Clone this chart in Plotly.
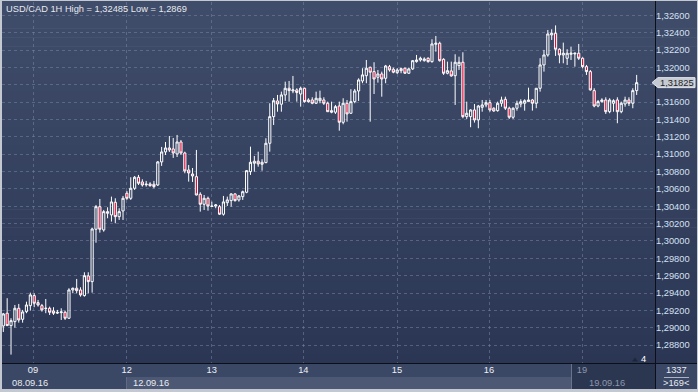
import plotly.graph_objects as go

# ---------------- data ----------------
TITLE_TEXT = "USD/CAD 1H High = 1,32485 Low = 1,2869"

open_ = [1.29020, 1.29167, 1.29024, 1.29070, 1.29224, 1.29097, 1.29185, 1.29254, 1.29370, 1.29289,
         1.29254, 1.29220, 1.29224, 1.29193, 1.29178, 1.29174, 1.29178, 1.29109, 1.29435, 1.29455,
         1.29435, 1.29370, 1.29597, 1.29531, 1.30135, 1.30395, 1.30127, 1.30338, 1.30300, 1.30446,
         1.30280, 1.30346, 1.30550, 1.30492, 1.30607, 1.30734, 1.30680, 1.30657, 1.30657, 1.30654,
         1.30645, 1.30911, 1.31026, 1.31072, 1.31061, 1.31003, 1.31141, 1.31014, 1.30818, 1.30772,
         1.30741, 1.30538, 1.30423, 1.30492, 1.30403, 1.30403, 1.30395, 1.30308, 1.30441, 1.30465,
         1.30542, 1.30473, 1.30511, 1.30561, 1.30799, 1.30896, 1.30919, 1.30884, 1.30903, 1.31126,
         1.31433, 1.31614, 1.31576, 1.31683, 1.31760, 1.31729, 1.31741, 1.31694, 1.31760, 1.31625,
         1.31625, 1.31587, 1.31617, 1.31625, 1.31587, 1.31502, 1.31484, 1.31556, 1.31368, 1.31587,
         1.31472, 1.31606, 1.31729, 1.31844, 1.31905, 1.32002, 1.31952, 1.31887, 1.31925, 1.31875,
         1.32009, 1.31979, 1.31940, 1.31986, 1.31991, 1.31933, 1.31983, 1.32067, 1.32086, 1.32078,
         1.32106, 1.32067, 1.32267, 1.32279, 1.32094, 1.31933, 1.31960, 1.31905, 1.32021, 1.32060,
         1.31433, 1.31433, 1.31510, 1.31395, 1.31541, 1.31568, 1.31594, 1.31530, 1.31502, 1.31587,
         1.31633, 1.31530, 1.31426, 1.31530, 1.31579, 1.31587, 1.31606, 1.31625, 1.31587, 1.31760,
         1.32029, 1.32144, 1.32375, 1.32394, 1.32210, 1.32144, 1.32106, 1.32152, 1.32156, 1.32164,
         1.32106, 1.32009, 1.31952, 1.31733, 1.31556, 1.31606, 1.31625, 1.31490, 1.31587, 1.31625,
         1.31490, 1.31579, 1.31625, 1.31587, 1.31733]

high = [1.29170, 1.29340, 1.29109, 1.29262, 1.29274, 1.29205, 1.29300, 1.29404, 1.29397, 1.29320,
        1.29274, 1.29331, 1.29243, 1.29236, 1.29205, 1.29224, 1.29197, 1.29455, 1.29462, 1.29562,
        1.29466, 1.29639, 1.29639, 1.30153, 1.30415, 1.30484, 1.30357, 1.30388, 1.30511, 1.30492,
        1.30377, 1.30519, 1.30576, 1.30734, 1.30749, 1.30761, 1.30711, 1.30692, 1.30677, 1.30692,
        1.30922, 1.31084, 1.31141, 1.31210, 1.31187, 1.31222, 1.31164, 1.31029, 1.30876, 1.30841,
        1.31049, 1.30561, 1.30530, 1.30511, 1.30453, 1.30426, 1.30415, 1.30519, 1.30511, 1.30550,
        1.30550, 1.30530, 1.30580, 1.30818, 1.31087, 1.30980, 1.31029, 1.30942, 1.31184, 1.31587,
        1.31648, 1.31683, 1.31721, 1.31836, 1.31844, 1.31902, 1.31760, 1.31779, 1.31767, 1.31645,
        1.31656, 1.31721, 1.31733, 1.31656, 1.31606, 1.31606, 1.31568, 1.31606, 1.31645, 1.31625,
        1.31749, 1.31752, 1.31875, 1.31991, 1.32086, 1.32009, 1.32060, 1.31971, 1.31952, 1.32029,
        1.32029, 1.31998, 1.31991, 1.31998, 1.31998, 1.31998, 1.32086, 1.32144, 1.32124, 1.32117,
        1.32117, 1.32325, 1.32363, 1.32297, 1.32106, 1.32067, 1.32067, 1.32152, 1.32124, 1.32175,
        1.31606, 1.31518, 1.31579, 1.31568, 1.31625, 1.31625, 1.31625, 1.31541, 1.31606, 1.31663,
        1.31663, 1.31548, 1.31541, 1.31617, 1.31633, 1.31633, 1.31767, 1.31637, 1.31760, 1.32106,
        1.32202, 1.32432, 1.32440, 1.32485, 1.32221, 1.32286, 1.32210, 1.32240, 1.32171, 1.32271,
        1.32117, 1.32029, 1.31971, 1.31760, 1.31625, 1.31645, 1.31656, 1.31645, 1.31633, 1.31656,
        1.31606, 1.31663, 1.31656, 1.31760, 1.31914]

low = [1.28951, 1.29020, 1.28690, 1.29001, 1.29058, 1.29058, 1.29167, 1.29197, 1.29236, 1.29243,
       1.29185, 1.29167, 1.29147, 1.29147, 1.29159, 1.29089, 1.29089, 1.29101, 1.29397, 1.29397,
       1.29358, 1.29358, 1.29397, 1.29404, 1.29980, 1.30096, 1.30107, 1.30262, 1.30223, 1.30204,
       1.30242, 1.30242, 1.30473, 1.30473, 1.30588, 1.30645, 1.30626, 1.30626, 1.30626, 1.30607,
       1.30634, 1.30865, 1.30991, 1.31026, 1.30957, 1.30968, 1.30991, 1.30780, 1.30684, 1.30680,
       1.30525, 1.30338, 1.30357, 1.30349, 1.30395, 1.30377, 1.30300, 1.30292, 1.30403, 1.30395,
       1.30453, 1.30453, 1.30473, 1.30550, 1.30761, 1.30799, 1.30856, 1.30810, 1.30896, 1.31029,
       1.31337, 1.31490, 1.31490, 1.31614, 1.31606, 1.31703, 1.31606, 1.31548, 1.31594, 1.31594,
       1.31576, 1.31579, 1.31587, 1.31568, 1.31487, 1.31472, 1.31464, 1.31271, 1.31345, 1.31375,
       1.31464, 1.31587, 1.31614, 1.31818, 1.31818, 1.31375, 1.31694, 1.31825, 1.31663, 1.31818,
       1.31952, 1.31933, 1.31925, 1.31933, 1.31925, 1.31925, 1.31971, 1.32055, 1.32067, 1.32067,
       1.32055, 1.32055, 1.32182, 1.32067, 1.31914, 1.31921, 1.31894, 1.31568, 1.31971, 1.31414,
       1.31406, 1.31311, 1.31364, 1.31299, 1.31490, 1.31541, 1.31490, 1.31490, 1.31490, 1.31548,
       1.31510, 1.31406, 1.31406, 1.31502, 1.31541, 1.31502, 1.31606, 1.31502, 1.31530, 1.31721,
       1.31952, 1.32124, 1.32317, 1.32133, 1.32048, 1.32048, 1.32029, 1.32086, 1.32009, 1.32086,
       1.31991, 1.31914, 1.31733, 1.31541, 1.31541, 1.31594, 1.31464, 1.31472, 1.31490, 1.31357,
       1.31472, 1.31548, 1.31556, 1.31530, 1.31683]

close = [1.29159, 1.29024, 1.29081, 1.29224, 1.29089, 1.29182, 1.29262, 1.29378, 1.29282, 1.29262,
         1.29205, 1.29224, 1.29178, 1.29167, 1.29170, 1.29182, 1.29109, 1.29435, 1.29455, 1.29427,
         1.29378, 1.29600, 1.29531, 1.30138, 1.30395, 1.30135, 1.30338, 1.30319, 1.30450, 1.30280,
         1.30338, 1.30492, 1.30492, 1.30607, 1.30734, 1.30665, 1.30645, 1.30649, 1.30637, 1.30626,
         1.30911, 1.31026, 1.31072, 1.31049, 1.31014, 1.31141, 1.31014, 1.30807, 1.30784, 1.30749,
         1.30530, 1.30423, 1.30492, 1.30403, 1.30398, 1.30415, 1.30308, 1.30450, 1.30473, 1.30542,
         1.30465, 1.30519, 1.30568, 1.30810, 1.30907, 1.30919, 1.30888, 1.30907, 1.31126, 1.31433,
         1.31617, 1.31579, 1.31683, 1.31760, 1.31733, 1.31741, 1.31711, 1.31760, 1.31606, 1.31606,
         1.31587, 1.31645, 1.31645, 1.31587, 1.31490, 1.31484, 1.31548, 1.31368, 1.31587, 1.31464,
         1.31606, 1.31729, 1.31856, 1.31914, 1.31991, 1.31945, 1.31867, 1.31925, 1.31867, 1.32017,
         1.31971, 1.31945, 1.31971, 1.31963, 1.31933, 1.31983, 1.32078, 1.32086, 1.32106, 1.32098,
         1.32067, 1.32271, 1.32279, 1.32078, 1.31933, 1.31963, 1.31902, 1.32060, 1.32060, 1.31433,
         1.31472, 1.31510, 1.31395, 1.31556, 1.31568, 1.31594, 1.31510, 1.31498, 1.31587, 1.31625,
         1.31530, 1.31426, 1.31530, 1.31587, 1.31606, 1.31617, 1.31625, 1.31587, 1.31760, 1.32029,
         1.32144, 1.32386, 1.32394, 1.32210, 1.32144, 1.32164, 1.32164, 1.32164, 1.32164, 1.32106,
         1.32009, 1.31952, 1.31741, 1.31556, 1.31606, 1.31625, 1.31490, 1.31625, 1.31617, 1.31490,
         1.31587, 1.31625, 1.31587, 1.31733, 1.31825]

DAY_LABELS = ["09", "12", "13", "14", "15", "16", "19"]
DATE_LABELS = ["08.09.16", "12.09.16", "19.09.16"]
Y_TICK_VALUES = [1.288, 1.290, 1.292, 1.294, 1.296, 1.298, 1.300, 1.302, 1.304, 1.306,
                 1.308, 1.310, 1.312, 1.314, 1.316, 1.318, 1.320, 1.322, 1.324, 1.326]
# 1,31800 is hidden behind the current-price marker in the reference
Y_TICK_TEXT = ["1,28800", "1,29000", "1,29200", "1,29400", "1,29600", "1,29800", "1,30000",
               "1,30200", "1,30400", "1,30600", "1,30800", "1,31000", "1,31200", "1,31400",
               "1,31600", "", "1,32000", "1,32200", "1,32400", "1,32600"]
LAST_PRICE_TEXT = "1,31825"
BAR_TOTAL_TEXT = "1337"
BAR_VISIBLE_TEXT = ">169<"
INDICATOR_TEXT = "4"

# ---------------- layout geometry (pixels) ----------------
W, H = 698, 392
PL, PR, PT, PB = 2, 655, 2, 363          # plot area bounds
CANDLE0_PX, STEP_PX = 3.3, 3.862          # first candle centre / spacing
GRID_PRICE, GRID_PX, PX_PER_UNIT = 1.326, 15.4, 8675.0
DAY_PX = [33, 126.7, 211.7, 303.3, 397, 489, 582]

FONT = "Liberation Sans, Arial, sans-serif"
FS = 9.3


def px2x(px):
    return (px - PL) / (PR - PL)


def py2y(py):
    return (PB - py) / (PB - PT)


def price2py(p):
    return GRID_PX + (GRID_PRICE - p) * PX_PER_UNIT


x_idx = list(range(len(close)))
x_range = [(PL - CANDLE0_PX) / STEP_PX, (PR - CANDLE0_PX) / STEP_PX]
y_range = [GRID_PRICE - (PB - GRID_PX) / PX_PER_UNIT, GRID_PRICE + (GRID_PX - PT) / PX_PER_UNIT]
day_ticks = [(p - CANDLE0_PX) / STEP_PX for p in DAY_PX]
day_text = [f'<span style="color:#8d97ab">{t}</span>' if i == len(DAY_LABELS) - 1 else t
            for i, t in enumerate(DAY_LABELS)]

fig = go.Figure()
fig.add_trace(go.Candlestick(
    x=x_idx, open=open_, high=high, low=low, close=close,
    increasing=dict(line=dict(color="#ffffff", width=1), fillcolor="rgba(0,0,0,0)"),
    decreasing=dict(line=dict(color="#ffffff", width=1), fillcolor="#e0103a"),
    whiskerwidth=0, hoverinfo="skip", showlegend=False,
))

shapes = []


def rect(x0, y0, x1, y1, color, layer="below"):
    return dict(type="rect", xref="paper", yref="paper",
                x0=px2x(x0), x1=px2x(x1), y0=py2y(y1), y1=py2y(y0),
                fillcolor=color, layer=layer, line=dict(width=0))


def hline(x0, x1, y, color, width=1, layer="above"):
    return dict(type="line", xref="paper", yref="paper", x0=px2x(x0), x1=px2x(x1),
                y0=py2y(y), y1=py2y(y), line=dict(color=color, width=width), layer=layer)


def vline(x, y0, y1, color, width=1, layer="above"):
    return dict(type="line", xref="paper", yref="paper", x0=px2x(x), x1=px2x(x),
                y0=py2y(y0), y1=py2y(y1), line=dict(color=color, width=width), layer=layer)


# vertical gradient for chart + price axis
top_c, bot_c = (63, 76, 106), (42, 54, 84)
N = 40
for k in range(N):
    t = k / (N - 1)
    c = tuple(round(top_c[j] + (bot_c[j] - top_c[j]) * t) for j in range(3))
    y0 = 1 + 362 * k / N
    y1 = 1 + 362 * (k + 1) / N + 0.6
    shapes.append(rect(2, y0, 697, y1, f"rgb{c}"))

# time axis panel
shapes.append(rect(2, 363, 655, 389, "rgb(58,71,101)"))
shapes.append(rect(126, 377, 571, 389, "rgb(76,88,116)"))
shapes.append(vline(126.5, 377, 389, "rgb(95,106,132)", layer="below"))
shapes.append(rect(571, 364, 655, 389, "rgb(43,54,81)"))
shapes.append(vline(571.5, 364, 389, "rgb(105,115,140)", layer="below"))
# bottom right panel
shapes.append(rect(656, 364, 697, 389, "rgb(58,71,101)"))
shapes.append(hline(664, 689, 377.5, "rgb(170,178,196)"))
# separators
shapes.append(hline(2, 697, 363.5, "#0b0f18"))
shapes.append(vline(655.5, 1, 389, "#0b0f18"))
# small indicator triangle
shapes.append(dict(type="path", xref="paper", yref="paper", layer="above",
                   path=f"M {px2x(632)},{py2y(361.5)} L {px2x(638)},{py2y(361.5)} L {px2x(635)},{py2y(357.5)} Z",
                   fillcolor="rgb(30,38,58)", line=dict(width=0)))
# current price marker (pointer + box)
cy = price2py(close[-1])
shapes.append(dict(type="path", xref="paper", yref="paper", layer="above",
                   path=(f"M {px2x(652)},{py2y(cy)} L {px2x(658)},{py2y(cy - 5)} L {px2x(695)},{py2y(cy - 5)} "
                         f"L {px2x(695)},{py2y(cy + 5)} L {px2x(658)},{py2y(cy + 5)} Z"),
                   fillcolor="#c6cad2", line=dict(color="#e2e5ea", width=1)))


def label(text, px, py, anchor="center", color="#e8ecf2", size=FS):
    return dict(text=text, xref="paper", yref="paper", x=px2x(px), y=py2y(py),
                xanchor=anchor, yanchor="middle", showarrow=False,
                font=dict(family=FONT, size=size, color=color))


annotations = [
    label(TITLE_TEXT, 4, 8.5, "left", "#e6e9ef"),
    label(LAST_PRICE_TEXT, 676.5, cy, "center", "#1a1e26"),
    label(DATE_LABELS[0], 10, 383.0, "left"),
    label(DATE_LABELS[1], 130.5, 383.0, "left"),
    label(DATE_LABELS[2], 587, 383.0, "left", "#8d97ab"),
    label(INDICATOR_TEXT, 643, 358.5, "center", "#ffffff"),
    label(BAR_TOTAL_TEXT, 676.5, 370.3, "center"),
    label(BAR_VISIBLE_TEXT, 676, 383.2, "center"),
]

GRID = "rgba(118,132,162,0.55)"
fig.update_layout(
    width=W, height=H,
    margin=dict(l=PL, r=W - PR, t=PT, b=H - PB, pad=0),
    paper_bgcolor="#c3c8d1",
    plot_bgcolor="rgba(0,0,0,0)",
    showlegend=False,
    boxgap=0.25, boxgroupgap=0.25,
    shapes=shapes,
    annotations=annotations,
    xaxis=dict(range=x_range, rangeslider=dict(visible=False), tickmode="array",
               tickvals=day_ticks, ticktext=day_text, showgrid=True, gridcolor=GRID,
               griddash="3px,3px", gridwidth=1, zeroline=False, showline=False, ticks="",
               tickfont=dict(family=FONT, size=FS, color="#eef1f5"), fixedrange=True),
    yaxis=dict(range=y_range, side="right", tickmode="array", tickvals=Y_TICK_VALUES,
               ticktext=Y_TICK_TEXT, showgrid=True, gridcolor=GRID, griddash="3px,3px",
               gridwidth=1, zeroline=False, showline=False, ticks="",
               tickfont=dict(family=FONT, size=FS, color="#d6e0f2"), fixedrange=True),
)

fig.write_html("out.html")
